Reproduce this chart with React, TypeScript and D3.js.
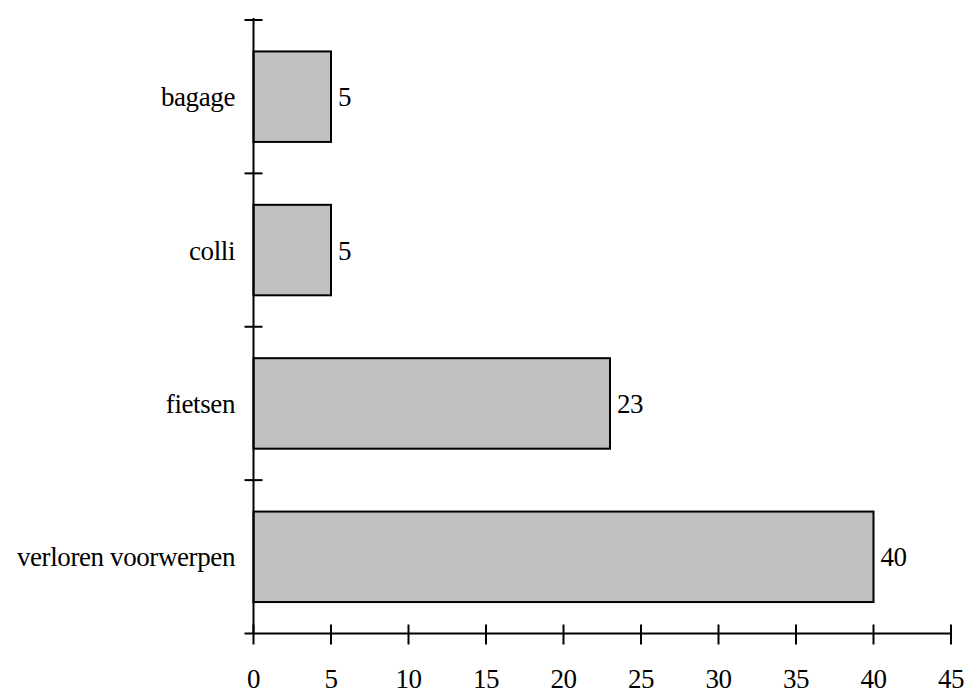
import React from "react";
import * as d3 from "d3";

const categories = ["bagage", "colli", "fietsen", "verloren voorwerpen"];
const values = [5, 5, 23, 40];
const xTicks = [0, 5, 10, 15, 20, 25, 30, 35, 40, 45];

export default function App() {
  const W = 967, H = 693;
  const x0 = 253.5, x1 = 951, yTop = 20, yBot = 633.5;
  const x = d3.scaleLinear().domain([0, 45]).range([x0, x1]);
  const y = d3.scaleBand<string>().domain(categories).range([yTop, yBot]).paddingInner(0.41).paddingOuter(0.205);
  const band = d3.scaleBand<string>().domain(categories).range([yTop, yBot]);
  const font = "'Liberation Serif', 'Times New Roman', serif";
  const fs = 27;
  const ls = -0.4;
  return (
    <svg width={W} height={H} style={{ position: "absolute", left: 0, top: 0 }}>
      <rect width={W} height={H} fill="#fff" />
      {categories.map((c, i) => (
        <g key={c}>
          <rect x={x(0)} y={y(c)!} width={x(values[i]) - x(0)} height={y.bandwidth()} fill="#c0c0c0" stroke="#000" strokeWidth={2} />
          <text x={x(values[i]) + 7} y={y(c)! + y.bandwidth() / 2} dy="0.35em" fontFamily={font} fontSize={fs} letterSpacing={ls} fill="#000">{values[i]}</text>
          <text x={235} y={y(c)! + y.bandwidth() / 2} dy="0.35em" textAnchor="end" fontFamily={font} fontSize={fs} letterSpacing={ls} fill="#000">{c}</text>
        </g>
      ))}
      <line x1={x0} x2={x0} y1={yTop - 2} y2={yBot} stroke="#000" strokeWidth={2} />
      {categories.map((c) => (
        <line key={c} x1={x0 - 9} x2={x0 + 9} y1={band(c)!} y2={band(c)!} stroke="#000" strokeWidth={2} />
      ))}
      <line x1={x0 - 9} x2={x1} y1={yBot} y2={yBot} stroke="#000" strokeWidth={2} />
      {xTicks.map((t) => (
        <g key={t}>
          <line x1={x(t)} x2={x(t)} y1={yBot - 9} y2={yBot + 11} stroke="#000" strokeWidth={2} />
          <text x={x(t)} y={yBot + 45} dy="0.35em" textAnchor="middle" fontFamily={font} fontSize={fs} letterSpacing={ls} fill="#000">{t}</text>
        </g>
      ))}
    </svg>
  );
}
